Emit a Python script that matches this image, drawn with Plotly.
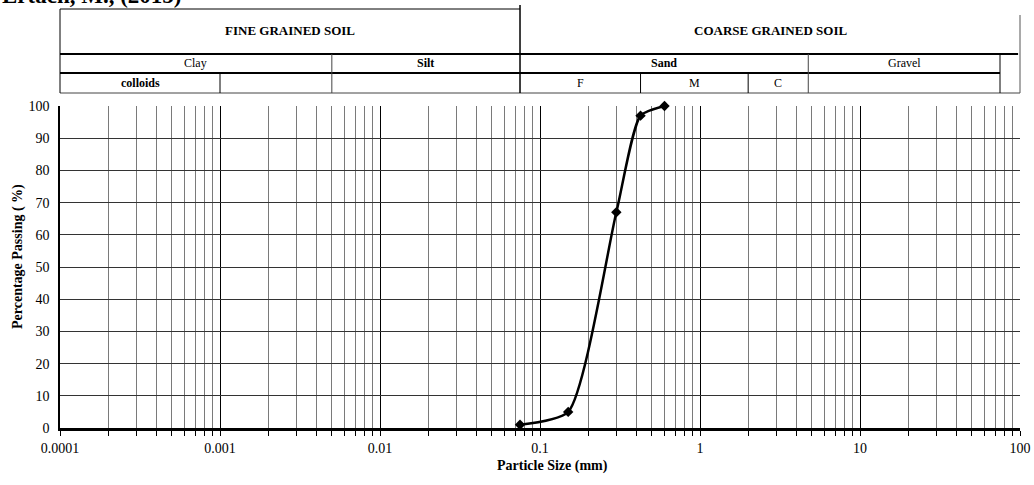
import numpy as np
import plotly.graph_objects as go

# ---- data ----
particle_size = [0.075, 0.15, 0.3, 0.425, 0.6]
percent_passing = [1, 5, 67, 97, 100]

x_tick_vals = [0.0001, 0.001, 0.01, 0.1, 1, 10, 100]
x_tick_text = ["0.0001", "0.001", "0.01", "0.1", "1", "10", "100"]
y_tick_vals = [0, 10, 20, 30, 40, 50, 60, 70, 80, 90, 100]

# soil classification boundaries (mm)
b_colloid = 0.001
b_clay_silt = 0.005
b_fine_coarse = 0.075
b_fine_med = 0.425
b_med_coarse = 2.0
b_sand_gravel = 4.75
b_gravel_end = 75.0

title_text = "Ertach, M., (2015)"
x_title = "Particle Size (mm)"
y_title = "Percentage Passing ( %)"

FONT = "Liberation Serif"
XMIN, XMAX = -4, 2

def xp(v):
    return (np.log10(v) - XMIN) / (XMAX - XMIN)

minor_vals = [m * 10.0 ** e for e in range(XMIN, XMAX) for m in range(2, 10)]

fig = go.Figure()
fig.add_trace(go.Scatter(
    x=particle_size, y=percent_passing, mode="lines+markers",
    line=dict(color="black", width=2.5, shape="spline", smoothing=0.6),
    marker=dict(symbol="diamond", size=8, color="black"),
    cliponaxis=False, showlegend=False,
))

# table rows (paper y)
H = 322.0
def yp(px):
    return (428 - px) / H

y_top = yp(9)
y_r1 = yp(54)
y_r2 = yp(73)
y_bot = yp(93)

shapes = []
def hline(x0, x1, y, w=1, c="black"):
    shapes.append(dict(type="line", xref="paper", yref="paper", x0=x0, x1=x1, y0=y, y1=y,
                       line=dict(color=c, width=w)))
def vline(x, y0, y1, w=1, c="black"):
    shapes.append(dict(type="line", xref="paper", yref="paper", x0=x, x1=x, y0=y0, y1=y1,
                       line=dict(color=c, width=w)))

hline(0, xp(b_fine_coarse), y_top, 1)
hline(0, 0.998, y_r1, 2)
hline(0, xp(b_gravel_end), y_r2, 2)
hline(0, 1, y_bot, 1, "#444")
vline(0, y_top, y_bot, 1)
vline(xp(b_fine_coarse), yp(5), y_bot, 1.5)
vline(1, yp(15), y_bot, 1, "#555")
vline(xp(b_gravel_end), y_r1, y_bot, 1)
vline(xp(b_clay_silt), y_r1, y_bot, 1, "#444")
vline(xp(b_sand_gravel), y_r1, y_bot, 1, "#444")
vline(xp(b_colloid), y_r2, y_bot, 1)
vline(xp(b_fine_med), y_r2, y_bot, 1)
vline(xp(b_med_coarse), y_r2, y_bot, 1)

def mid(a, b):
    return (a + b) / 2

ann = []
def label(text, x, y, size=11, bold=False):
    ann.append(dict(text=f"<b>{text}</b>" if bold else text, x=x, y=y, xref="paper", yref="paper",
                    showarrow=False, font=dict(family=FONT, size=size, color="black"),
                    xanchor="center", yanchor="middle"))

ym0 = yp(31)
ym1 = yp(63)
ym2 = yp(83)
label("FINE GRAINED SOIL", mid(0, xp(b_fine_coarse)), ym0, 13, True)
label("COARSE GRAINED SOIL", mid(xp(b_fine_coarse), 1), ym0, 13, True)
label("Clay", mid(0, xp(b_clay_silt)), ym1, 12)
label("Silt", mid(xp(b_clay_silt), xp(b_fine_coarse)), ym1, 12, True)
label("Sand", mid(xp(b_fine_coarse), xp(b_sand_gravel)), ym1, 12, True)
label("Gravel", mid(xp(b_sand_gravel), xp(b_gravel_end)), ym1, 12)
label("colloids", mid(0, xp(b_colloid)), ym2, 12, True)
label("F", mid(xp(b_fine_coarse), xp(b_fine_med)), ym2, 12)
label("M", mid(xp(b_fine_med), xp(b_med_coarse)), ym2, 12)
label("C", mid(xp(b_med_coarse), xp(b_sand_gravel)), ym2, 12)

ann.append(dict(text=f"<b>{title_text}</b>", x=-60 / 960, y=yp(10), xref="paper", yref="paper",
                showarrow=False, xanchor="left", yanchor="bottom",
                font=dict(family=FONT, size=23, color="black")))
ann.append(dict(text=f"<b>{x_title}</b>", x=(552 - 60) / 960, y=yp(466), xref="paper", yref="paper",
                showarrow=False, xanchor="center", yanchor="middle",
                font=dict(family=FONT, size=14, color="black")))
ann.append(dict(text=f"<b>{y_title}</b>", x=(18 - 60) / 960, y=yp(257), xref="paper", yref="paper",
                showarrow=False, xanchor="center", yanchor="middle", textangle=-90,
                font=dict(family=FONT, size=14, color="black")))

fig.update_layout(
    width=1034, height=485,
    margin=dict(l=60, r=14, t=106, b=57, autoexpand=False),
    paper_bgcolor="white", plot_bgcolor="white",
    font=dict(family=FONT, size=14, color="black"),
    shapes=shapes, annotations=ann,
    xaxis=dict(
        type="log", range=[XMIN, XMAX], automargin=False,
        tickmode="array", tickvals=x_tick_vals, ticktext=x_tick_text,
        showgrid=True, gridcolor="black", gridwidth=1.2,
        ticks="outside", ticklen=5, tickcolor="black", tickwidth=1,
        showline=True, linecolor="black", linewidth=2.5,
        zeroline=False,
        tickfont=dict(family=FONT, size=14),
        minor=dict(tickmode="array", tickvals=minor_vals, showgrid=True, gridcolor="#7a7a7a",
                   gridwidth=1, ticks="outside", ticklen=5, tickcolor="black", tickwidth=1),
    ),
    yaxis=dict(
        range=[0, 100], tickmode="array", tickvals=y_tick_vals, automargin=False,
        showgrid=True, gridcolor="#333333", gridwidth=1.2,
        showline=True, linecolor="black", linewidth=1.5,
        zeroline=False, ticks="", ticklabelstandoff=6,
        tickfont=dict(family=FONT, size=14),
    ),
)

fig.write_html("out.html")
